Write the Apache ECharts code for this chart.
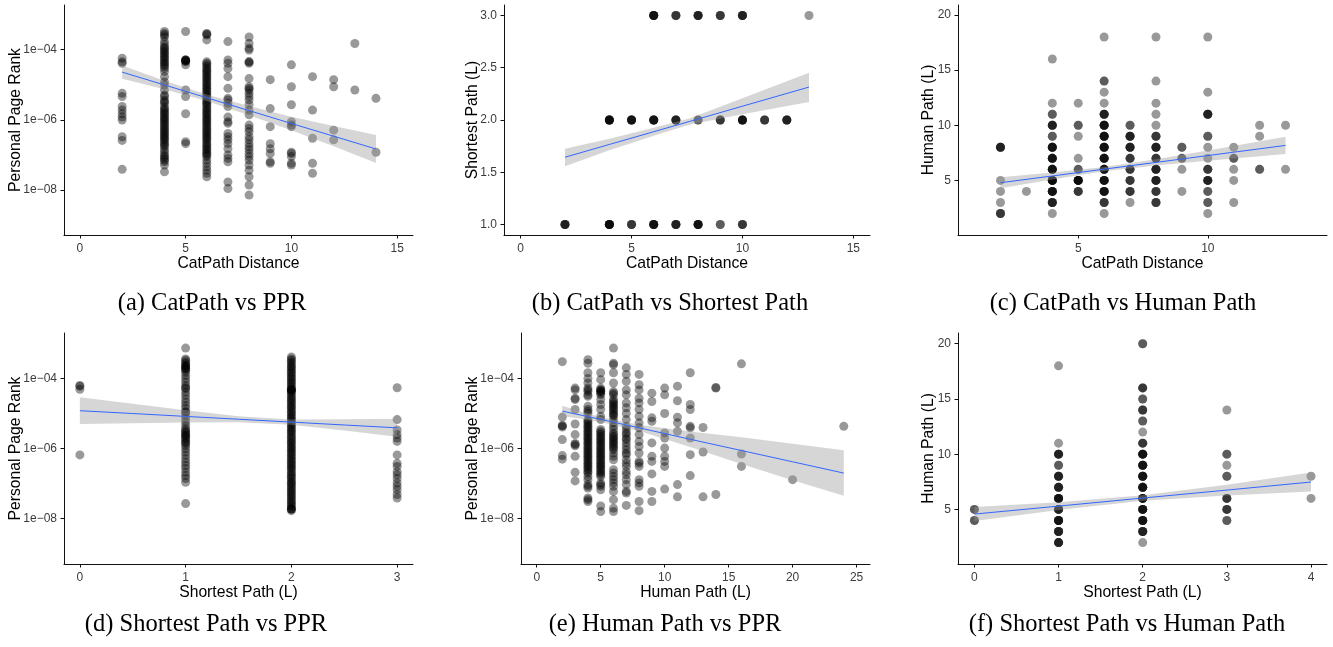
<!DOCTYPE html>
<html>
<head>
<meta charset="utf-8">
<script src="https://cdn.jsdelivr.net/npm/echarts@6/dist/echarts.min.js"></script>
<style>
  html, body { margin: 0; padding: 0; background: #fff; }
  #chart { width: 1333px; height: 647px; }
</style>
</head>
<body>
<div id="chart"></div>
<script>
// (a) CatPath distance vs personal page rank: one list of PPR values per distance
var catPprX = [2, 4, 5, 6, 7, 8, 9, 10, 11, 12, 13, 14];
var catPprCols = [
    [5.7e-5, 4.5e-5, 4.1e-5, 5.7e-6, 4.6e-6, 2.4e-6, 1.9e-6, 1.5e-6, 1.2e-6, 9.9e-7, 3.3e-7, 2.6e-7, 3.9e-8],
    [3.3e-4, 2.9e-4, 2.6e-4, 2.3e-4, 1.7e-4, 1.4e-4, 1.2e-4, 1.1e-4, 9.8e-5, 8.8e-5, 7.9e-5, 7.1e-5, 6.3e-5, 5.7e-5,
     5.1e-5, 4.5e-5, 4.1e-5, 3.7e-5, 3.3e-5, 2.9e-5, 2.4e-5, 1.7e-5, 1.2e-5, 9.8e-6, 7.1e-6, 5.1e-6, 4.6e-6, 3.7e-6,
     3.3e-6, 3.0e-6, 2.4e-6, 2.1e-6, 1.9e-6, 1.7e-6, 1.5e-6, 1.4e-6, 1.2e-6, 1.1e-6, 9.9e-7, 8.9e-7, 8.0e-7, 7.1e-7,
     6.4e-7, 5.7e-7, 5.1e-7, 4.6e-7, 4.1e-7, 3.7e-7, 3.3e-7, 3.0e-7, 2.7e-7, 2.4e-7, 2.1e-7, 1.9e-7, 1.7e-7, 1.4e-7,
     1.2e-7, 1.0e-7, 9.0e-8, 8.0e-8, 7.2e-8, 6.4e-8, 5.2e-8, 3.3e-8],
    [3.3e-4, 5.1e-5, 5.1e-5, 5.1e-5, 4.8e-5, 4.8e-5, 4.5e-5, 3.7e-5, 7.1e-6, 4.6e-6, 1.5e-6, 2.4e-7, 2.1e-7],
    [2.9e-4, 2.8e-4, 2.6e-4, 1.9e-4, 4.5e-5, 4.1e-5, 3.7e-5, 3.3e-5, 2.9e-5, 2.6e-5, 2.4e-5, 2.1e-5, 1.9e-5, 1.7e-5,
     1.5e-5, 1.4e-5, 1.2e-5, 1.1e-5, 9.8e-6, 8.8e-6, 7.9e-6, 7.1e-6, 6.4e-6, 5.7e-6, 5.1e-6, 4.6e-6, 4.1e-6, 3.7e-6,
     3.3e-6, 3.0e-6, 2.7e-6, 2.4e-6, 2.1e-6, 1.9e-6, 1.7e-6, 1.5e-6, 1.4e-6, 1.2e-6, 1.1e-6, 9.9e-7, 8.9e-7, 8.0e-7,
     7.1e-7, 6.4e-7, 5.7e-7, 5.1e-7, 4.6e-7, 4.1e-7, 3.7e-7, 3.3e-7, 3.0e-7, 2.7e-7, 2.4e-7, 2.1e-7, 1.9e-7, 1.7e-7,
     1.5e-7, 1.4e-7, 1.2e-7, 1.1e-7, 1.0e-7, 9.0e-8, 7.2e-8, 5.8e-8, 4.6e-8, 3.7e-8, 3.0e-8, 2.4e-8],
    [1.7e-4, 5.1e-5, 4.1e-5, 2.9e-5, 1.7e-5, 7.9e-6, 4.1e-6, 3.7e-6, 3.0e-6, 2.4e-6, 1.2e-6, 8.9e-7, 8.0e-7, 4.1e-7,
     3.3e-7, 2.7e-7, 2.1e-7, 1.5e-7, 1.0e-7, 8.0e-8, 6.4e-8, 1.7e-8, 1.1e-8],
    [2.3e-4, 1.5e-4, 1.1e-4, 9.8e-5, 4.5e-5, 4.5e-5, 4.1e-5, 1.5e-5, 8.8e-6, 7.9e-6, 7.1e-6, 5.7e-6, 4.6e-6, 3.7e-6,
     2.7e-6, 1.9e-6, 1.4e-6, 7.1e-7, 5.7e-7, 4.6e-7, 3.3e-7, 2.7e-7, 2.1e-7, 1.7e-7, 1.4e-7, 1.1e-7, 9.0e-8, 7.2e-8,
     5.2e-8, 3.7e-8, 2.4e-8, 1.4e-8, 7.2e-9],
    [1.4e-5, 2.1e-6, 6.4e-7, 2.1e-7, 1.5e-7, 1.1e-7, 6.4e-8, 5.8e-8],
    [3.7e-5, 8.8e-6, 2.7e-6, 8.9e-7, 7.1e-7, 6.4e-7, 1.2e-7, 1.1e-7, 9.0e-8, 5.8e-8, 5.2e-8],
    [1.7e-5, 1.9e-6, 3.0e-7, 5.8e-8, 3.0e-8],
    [1.4e-5, 8.8e-6, 5.1e-7, 2.7e-7],
    [1.5e-4, 7.1e-6],
    [4.1e-6, 1.2e-7]
];
// fitted line with its confidence band: [x, lower, fit, upper]
var catPprBand = [
    [2, 1.48e-5, 2.29e-5, 3.55e-5], [4, 7.5e-6, 9.9e-6, 1.3e-5], [6, 3.47e-6, 4.27e-6, 5.25e-6],
    [8, 1.36e-6, 1.84e-6, 2.48e-6], [10, 5.1e-7, 7.9e-7, 1.23e-6], [12, 1.76e-7, 3.43e-7, 6.7e-7],
    [14, 5.9e-8, 1.48e-7, 3.7e-7]
];

// (b) CatPath distance vs shortest path: [x, y, number of overlapping points]
var catShortest = [
    [6, 3, 5], [7, 3, 3], [8, 3, 4], [9, 3, 3], [10, 3, 4], [13, 3, 1],
    [4, 2, 6], [5, 2, 5], [6, 2, 5], [7, 2, 4], [8, 2, 2], [9, 2, 3], [10, 2, 5], [11, 2, 3], [12, 2, 4],
    [2, 1, 4], [4, 1, 6], [5, 1, 3], [6, 1, 5], [7, 1, 4], [8, 1, 5], [9, 1, 2], [10, 1, 3]
];
var catShortestBand = [
    [2, 1.558, 1.644, 1.726], [4, 1.71, 1.766, 1.82], [6, 1.85, 1.888, 1.925],
    [7.6, 1.955, 1.985, 2.015], [10, 2.056, 2.132, 2.208], [13, 2.172, 2.315, 2.451]
];

// (c) CatPath distance vs human path
var catHuman = [
    [2, 8, 4], [2, 5, 1], [2, 4, 1], [2, 3, 1], [2, 2, 3],
    [3, 4, 1],
    [4, 16, 1], [4, 12, 1], [4, 11, 2], [4, 10, 4], [4, 9, 2], [4, 8, 5], [4, 7, 5], [4, 6, 5], [4, 5, 6], [4, 4, 5], [4, 3, 4], [4, 2, 1],
    [5, 12, 1], [5, 10, 2], [5, 9, 1], [5, 7, 1], [5, 6, 2], [5, 5, 6], [5, 4, 3],
    [6, 18, 1], [6, 14, 2], [6, 13, 1], [6, 12, 1], [6, 11, 4], [6, 10, 5], [6, 9, 5], [6, 8, 5], [6, 7, 5], [6, 6, 5], [6, 5, 5], [6, 4, 5], [6, 3, 3], [6, 2, 1],
    [7, 10, 2], [7, 9, 4], [7, 8, 4], [7, 7, 3], [7, 6, 3], [7, 5, 3], [7, 4, 3], [7, 3, 1],
    [8, 18, 1], [8, 14, 1], [8, 12, 1], [8, 11, 1], [8, 10, 1], [8, 9, 3], [8, 8, 4], [8, 7, 3], [8, 6, 4], [8, 5, 4], [8, 4, 3], [8, 3, 3],
    [9, 8, 2], [9, 7, 2], [9, 6, 1], [9, 4, 1],
    [10, 18, 1], [10, 13, 1], [10, 11, 4], [10, 9, 2], [10, 8, 1], [10, 7, 1], [10, 6, 3], [10, 5, 4], [10, 4, 2], [10, 3, 2], [10, 2, 1],
    [11, 8, 1], [11, 7, 2], [11, 6, 1], [11, 5, 1], [11, 3, 1],
    [12, 10, 1], [12, 9, 1], [12, 6, 2],
    [13, 10, 1], [13, 6, 1]
];
var catHumanBand = [
    [2, 4.29, 4.79, 5.29], [4, 5.09, 5.40, 5.71], [6, 5.82, 6.02, 6.22],
    [8, 6.35, 6.63, 6.91], [10, 6.79, 7.25, 7.71], [13, 7.39, 8.17, 8.95]
];

// (d) shortest path vs personal page rank
var shortPprX = [0, 1, 2, 3];
var shortPprCols = [
    [6.3e-5, 6.0e-5, 4.9e-5, 6.6e-7],
    [7.3e-4, 3.6e-4, 3.3e-4, 2.9e-4, 2.6e-4, 2.3e-4, 2.3e-4, 2.1e-4, 1.9e-4, 1.9e-4, 1.7e-4, 1.5e-4, 1.2e-4, 9.8e-5,
     7.9e-5, 6.3e-5, 5.4e-5, 5.1e-5, 4.1e-5, 3.3e-5, 2.6e-5, 2.1e-5, 1.7e-5, 1.4e-5, 1.1e-5, 1.1e-5, 8.8e-6, 7.1e-6,
     5.7e-6, 4.6e-6, 3.7e-6, 3.3e-6, 3.0e-6, 2.7e-6, 2.4e-6, 2.4e-6, 2.1e-6, 1.9e-6, 1.7e-6, 1.5e-6, 1.4e-6, 1.2e-6,
     9.9e-7, 8.0e-7, 6.4e-7, 5.1e-7, 4.1e-7, 3.3e-7, 2.7e-7, 2.1e-7, 1.7e-7, 1.4e-7, 1.1e-7, 2.7e-8],
    [4.1e-4, 3.6e-4, 3.3e-4, 2.9e-4, 2.6e-4, 2.3e-4, 2.1e-4, 1.9e-4, 1.7e-4, 1.5e-4, 1.4e-4, 1.2e-4, 1.1e-4, 9.8e-5,
     8.8e-5, 7.9e-5, 7.1e-5, 6.3e-5, 5.7e-5, 5.1e-5, 4.7e-5, 4.7e-5, 4.7e-5, 4.5e-5, 4.1e-5, 3.7e-5, 3.3e-5, 2.9e-5,
     2.6e-5, 2.4e-5, 2.1e-5, 1.9e-5, 1.7e-5, 1.5e-5, 1.4e-5, 1.2e-5, 1.1e-5, 9.8e-6, 8.8e-6, 7.9e-6, 7.1e-6, 6.4e-6,
     5.7e-6, 5.1e-6, 4.6e-6, 4.1e-6, 3.7e-6, 3.3e-6, 3.0e-6, 2.7e-6, 2.4e-6, 2.1e-6, 1.9e-6, 1.7e-6, 1.5e-6, 1.4e-6,
     1.2e-6, 1.1e-6, 9.9e-7, 8.9e-7, 8.0e-7, 7.1e-7, 6.4e-7, 5.7e-7, 5.1e-7, 4.6e-7, 4.1e-7, 3.7e-7, 3.3e-7, 3.0e-7,
     2.7e-7, 2.4e-7, 2.1e-7, 1.9e-7, 1.7e-7, 1.5e-7, 1.4e-7, 1.2e-7, 1.1e-7, 1.0e-7, 9.0e-8, 8.0e-8, 7.2e-8, 6.4e-8,
     5.8e-8, 5.2e-8, 4.6e-8, 4.2e-8, 3.7e-8, 3.3e-8, 3.0e-8, 2.7e-8, 2.4e-8, 2.2e-8, 1.9e-8, 1.9e-8, 1.9e-8, 1.7e-8],
    [5.4e-5, 6.7e-6, 3.4e-6, 2.5e-6, 2.0e-6, 1.6e-6, 6.6e-7, 3.8e-7, 3.1e-7, 2.2e-7, 1.8e-7, 1.4e-7, 1.05e-7, 8.4e-8,
     6.7e-8, 4.9e-8, 3.9e-8]
];
var shortPprBand = [
    [0, 5.0e-6, 1.2e-5, 2.9e-5], [0.5, 5.25e-6, 9.97e-6, 1.9e-5], [1, 5.5e-6, 8.26e-6, 1.24e-5],
    [1.5, 5.6e-6, 6.85e-6, 8.4e-6], [2, 4.8e-6, 5.68e-6, 6.7e-6], [2.5, 3.27e-6, 4.7e-6, 6.8e-6],
    [3, 2.16e-6, 3.9e-6, 7.05e-6]
];

// (e) human path vs personal page rank
var humanPprX = [2, 3, 4, 5, 6, 7, 8, 9, 10, 11, 12, 13, 14, 16, 20, 24];
var humanPprCols = [
    [3.0e-4, 7.9e-6, 4.5e-6, 4.5e-6, 4.1e-6, 1.8e-6, 6.3e-7, 5.0e-7],
    [5.3e-5, 4.7e-5, 2.7e-5, 2.5e-5, 1.3e-5, 5.0e-6, 2.5e-6, 1.4e-6, 1.3e-6, 1.2e-6, 6.0e-7, 2.1e-7, 1.2e-7],
    [3.4e-4, 2.7e-4, 1.45e-4, 1.0e-4, 7.4e-5, 5.3e-5, 4.7e-5, 4.2e-5, 3.4e-5, 3.1e-5, 1.6e-5, 1.3e-5, 1.15e-5, 1.0e-5,
     6.7e-6, 6.0e-6, 5.4e-6, 4.8e-6, 4.3e-6, 3.9e-6, 3.5e-6, 3.1e-6, 2.8e-6, 2.5e-6, 2.2e-6, 2.0e-6, 1.8e-6, 1.6e-6,
     1.45e-6, 1.3e-6, 1.15e-6, 1.03e-6, 9.3e-7, 8.3e-7, 7.5e-7, 6.7e-7, 6.0e-7, 5.4e-7, 4.8e-7, 4.3e-7, 3.8e-7, 3.45e-7,
     3.1e-7, 2.8e-7, 2.5e-7, 2.2e-7, 2.0e-7, 1.6e-7, 1.3e-7, 9.4e-8, 8.4e-8, 7.5e-8, 3.9e-8, 3.5e-8, 3.1e-8],
    [1.45e-4, 9.2e-5, 5.3e-5, 4.7e-5, 4.7e-5, 4.2e-5, 4.2e-5, 3.8e-5, 3.4e-5, 2.5e-5, 1.8e-5, 1.3e-5, 8.3e-6, 6.7e-6,
     3.5e-6, 3.1e-6, 2.8e-6, 2.5e-6, 2.2e-6, 2.0e-6, 1.8e-6, 1.6e-6, 1.45e-6, 1.3e-6, 1.15e-6, 1.03e-6, 9.3e-7, 8.3e-7,
     7.5e-7, 6.7e-7, 6.0e-7, 5.4e-7, 4.8e-7, 4.3e-7, 3.8e-7, 3.45e-7, 3.1e-7, 2.8e-7, 2.5e-7, 2.2e-7, 2.0e-7, 1.8e-7,
     1.6e-7, 1.05e-7, 9.4e-8, 8.4e-8, 6.7e-8, 2.3e-8, 1.6e-8],
    [7.3e-4, 2.7e-4, 2.45e-4, 1.45e-4, 7.4e-5, 4.2e-5, 3.8e-5, 3.4e-5, 2.5e-5, 2.2e-5, 2.0e-5, 1.8e-5, 1.6e-5, 1.45e-5,
     1.3e-5, 1.15e-5, 1.0e-5, 9.2e-6, 8.3e-6, 6.7e-6, 5.4e-6, 4.3e-6, 3.5e-6, 2.8e-6, 2.5e-6, 2.2e-6, 2.0e-6, 1.8e-6,
     1.6e-6, 1.45e-6, 1.3e-6, 1.15e-6, 1.03e-6, 9.3e-7, 7.5e-7, 6.0e-7, 4.8e-7, 2.5e-7, 2.0e-7, 1.6e-7, 1.3e-7, 1.05e-7,
     8.4e-8, 6.0e-8, 3.5e-8, 2.0e-8, 1.6e-8],
    [2.0e-4, 1.3e-4, 8.3e-5, 4.7e-5, 3.4e-5, 2.0e-5, 1.45e-5, 1.0e-5, 6.7e-6, 4.3e-6, 3.5e-6, 2.8e-6, 2.5e-6, 2.0e-6,
     1.8e-6, 1.45e-6, 1.15e-6, 9.3e-7, 7.5e-7, 6.7e-7, 4.8e-7, 3.8e-7, 3.1e-7, 2.2e-7, 1.8e-7, 1.3e-7, 9.4e-8, 6.0e-8,
     5.4e-8, 2.4e-8],
    [1.3e-4, 6.6e-5, 4.7e-5, 2.7e-5, 2.0e-5, 1.3e-5, 8.3e-6, 5.4e-6, 3.9e-6, 2.5e-6, 1.6e-6, 1.15e-6, 7.5e-7, 4.3e-7,
     3.8e-7, 3.1e-7, 1.3e-7, 1.05e-7, 8.4e-8, 3.1e-8, 1.7e-8],
    [3.8e-5, 2.2e-5, 7.5e-6, 6.0e-6, 1.45e-6, 6.0e-7, 4.3e-7, 1.9e-7, 6.0e-8, 3.1e-8],
    [5.3e-5, 3.4e-5, 1.0e-5, 2.8e-6, 2.0e-6, 1.03e-6, 6.0e-7, 4.3e-7, 3.1e-7, 7.0e-8],
    [6.0e-5, 2.3e-5, 7.8e-6, 5.4e-6, 3.1e-6, 9.4e-8, 4.2e-8],
    [1.45e-4, 1.8e-5, 1.3e-5, 4.3e-6, 3.9e-6, 2.0e-6, 6.7e-7, 1.7e-7],
    [4.0e-6, 8.0e-7, 4.2e-8],
    [5.5e-5, 5.3e-5, 4.9e-8],
    [2.6e-4, 7.0e-7, 3.1e-7],
    [1.3e-7],
    [4.3e-6]
];
var humanPprBand = [
    [2, 8.3e-6, 1.17e-5, 1.66e-5], [3.5, 7.1e-6, 8.9e-6, 1.12e-5], [5, 5.75e-6, 6.8e-6, 7.9e-6],
    [8, 3.16e-6, 3.9e-6, 4.8e-6], [12, 1.11e-6, 1.84e-6, 3.05e-6], [16, 3.66e-7, 8.8e-7, 2.1e-6],
    [20, 1.26e-7, 4.2e-7, 1.38e-6], [24, 4.5e-8, 2.0e-7, 8.9e-7]
];

// (f) shortest path vs human path
var shortHuman = [
    [0, 5, 2], [0, 4, 2],
    [1, 18, 1], [1, 11, 1], [1, 10, 4], [1, 9, 2], [1, 8, 4], [1, 7, 4], [1, 6, 5], [1, 5, 4], [1, 4, 5], [1, 3, 4], [1, 2, 4],
    [2, 20, 2], [2, 16, 3], [2, 15, 2], [2, 14, 3], [2, 13, 2], [2, 12, 1], [2, 11, 3], [2, 10, 5], [2, 9, 5], [2, 8, 5],
    [2, 7, 5], [2, 6, 5], [2, 5, 5], [2, 4, 5], [2, 3, 4], [2, 2, 1],
    [3, 14, 1], [3, 10, 2], [3, 9, 1], [3, 8, 2], [3, 6, 3], [3, 5, 3], [3, 4, 2],
    [4, 8, 1], [4, 6, 1]
];
var shortHumanBand = [
    [0, 3.95, 4.58, 5.21], [1, 4.95, 5.30, 5.65], [2, 5.78, 6.03, 6.28], [3, 6.27, 6.75, 7.23], [4, 6.62, 7.48, 8.34]
];

// tick labels
var catTicks = [0, 5, 10, 15];
var catTicksC = [5, 10];
var pprTicks = [1e-8, 1e-6, 1e-4];
var shortTicksY = [1.0, 1.5, 2.0, 2.5, 3.0];
var humanTicks = [5, 10, 15, 20];
var shortTicks3 = [0, 1, 2, 3];
var shortTicks4 = [0, 1, 2, 3, 4];
var humanTicksX = [0, 5, 10, 15, 20, 25];

var captions = [
    '(a) CatPath vs PPR', '(b) CatPath vs Shortest Path', '(c) CatPath vs Human Path',
    '(d) Shortest Path vs PPR', '(e) Human Path vs PPR', '(f) Shortest Path vs Human Path'
];

function fromColumns(xs, cols) {
    var pts = [];
    xs.forEach(function (x, i) {
        cols[i].forEach(function (y) { pts.push([x, y]); });
    });
    return pts;
}
function fromCounts(rows) {
    var pts = [];
    rows.forEach(function (r) {
        for (var k = 0; k < r[2]; k++) pts.push([r[0], r[1]]);
    });
    return pts;
}

var sans = 'Liberation Sans';
var labelColor = '#3c3c3c';

function pprLabel(v) {
    var e = Math.round(Math.log10(v));
    var s = String(Math.abs(e));
    if (s.length < 2) s = '0' + s;
    return '1e' + (e < 0 ? '\u2212' : '+') + s;
}

var panels = [
    {grid: [64, 5, 349, 230], x: [-0.75, 15.75], xt: catTicks, y: [Math.pow(10, -9.28), Math.pow(10, -2.727)], log: true,
     yt: pprTicks, xn: 'CatPath Distance', yn: 'Personal Page Rank', yGap: 40,
     pts: fromColumns(catPprX, catPprCols), band: catPprBand},
    {grid: [504, 5, 366, 230], x: [-0.75, 15.75], xt: catTicks, y: [0.9, 3.1], yt: shortTicksY, fmt1: true,
     xn: 'CatPath Distance', yn: 'Shortest Path (L)', yGap: 23,
     pts: fromCounts(catShortest), band: catShortestBand},
    {grid: [958, 5, 369, 230], x: [0.36, 14.6], xt: catTicksC, y: [0.05, 20.9], yt: humanTicks,
     xn: 'CatPath Distance', yn: 'Human Path (L)', yGap: 21,
     pts: fromCounts(catHuman), band: catHumanBand},
    {grid: [64, 333, 349, 231], x: [-0.15, 3.15], xt: shortTicks3, y: [Math.pow(10, -9.29), Math.pow(10, -2.706)], log: true,
     yt: pprTicks, xn: 'Shortest Path (L)', yn: 'Personal Page Rank', yGap: 40,
     pts: fromColumns(shortPprX, shortPprCols), band: shortPprBand},
    {grid: [521, 333, 349, 231], x: [-1.23, 26.05], xt: humanTicksX, y: [Math.pow(10, -9.29), Math.pow(10, -2.706)], log: true,
     yt: pprTicks, xn: 'Human Path (L)', yn: 'Personal Page Rank', yGap: 40,
     pts: fromColumns(humanPprX, humanPprCols), band: humanPprBand},
    {grid: [958, 333, 369, 231], x: [-0.195, 4.19], xt: shortTicks4, y: [0.06, 20.97], yt: humanTicks,
     xn: 'Shortest Path (L)', yn: 'Human Path (L)', yGap: 21,
     pts: fromCounts(shortHuman), band: shortHumanBand}
];

var grids = [], xAxes = [], yAxes = [], series = [];

panels.forEach(function (p, i) {
    grids.push({left: p.grid[0], top: p.grid[1], width: p.grid[2], height: p.grid[3], containLabel: false});
    var lineStyle = {color: '#111', width: 1};
    xAxes.push({
        type: 'value', gridIndex: i, min: p.x[0], max: p.x[1],
        axisLine: {show: true, onZero: false, lineStyle: lineStyle},
        axisTick: {show: true, length: 3.5, lineStyle: lineStyle, customValues: p.xt},
        axisLabel: {customValues: p.xt, margin: 8, fontSize: 12, color: labelColor, fontFamily: sans},
        splitLine: {show: false},
        name: p.xn, nameLocation: 'middle', nameGap: 21, nameMoveOverlap: false,
        nameTextStyle: {fontSize: 15.7, color: '#000', fontFamily: sans}
    });
    yAxes.push({
        type: p.log ? 'log' : 'value', logBase: 10, gridIndex: i, min: p.y[0], max: p.y[1],
        axisLine: {show: true, onZero: false, lineStyle: lineStyle},
        axisTick: {show: true, length: 3.5, lineStyle: lineStyle, customValues: p.yt},
        axisLabel: {
            customValues: p.yt, margin: 7, fontSize: 12, color: labelColor, fontFamily: sans,
            formatter: p.log ? pprLabel : (p.fmt1 ? function (v) { return v.toFixed(1); } : null)
        },
        splitLine: {show: false},
        name: p.yn, nameLocation: 'middle', nameGap: p.yGap, nameMoveOverlap: false,
        nameTextStyle: {fontSize: 15.7, color: '#000', fontFamily: sans}
    });
    series.push({
        type: 'scatter', xAxisIndex: i, yAxisIndex: i, data: p.pts, symbolSize: 9,
        itemStyle: {color: 'rgba(0,0,0,0.5)'}, silent: true, z: 2
    });
    var band = p.band;
    series.push({
        type: 'custom', xAxisIndex: i, yAxisIndex: i, silent: true, z: 3,
        data: [[band[0][0], band[0][2]]],
        renderItem: function (params, api) {
            var upper = band.map(function (r) { return api.coord([r[0], r[3]]); });
            var lower = band.map(function (r) { return api.coord([r[0], r[1]]); }).reverse();
            return {type: 'polygon', shape: {points: upper.concat(lower)}, style: {fill: 'rgba(153,153,153,0.4)'}};
        }
    });
    series.push({
        type: 'line', xAxisIndex: i, yAxisIndex: i, silent: true, z: 4,
        data: band.map(function (r) { return [r[0], r[2]]; }),
        showSymbol: false, lineStyle: {color: '#3366FF', width: 1}
    });
});

var captionPos = [[212, 304], [670, 304], [1123, 304], [206, 625], [665, 625], [1127, 625]];
var graphics = captions.map(function (t, i) {
    return {
        type: 'text', x: captionPos[i][0], y: captionPos[i][1],
        style: {text: t, x: 0, y: 0, align: 'center', verticalAlign: 'middle',
                font: '24.5px "Liberation Serif"', fill: '#000'}
    };
});

var myChart = echarts.init(document.getElementById('chart'));
var option = {
    animation: false,
    backgroundColor: '#fff',
    textStyle: {fontFamily: sans},
    grid: grids,
    xAxis: xAxes,
    yAxis: yAxes,
    series: series,
    graphic: graphics
};
myChart.setOption(option);
</script>
</body>
</html>
